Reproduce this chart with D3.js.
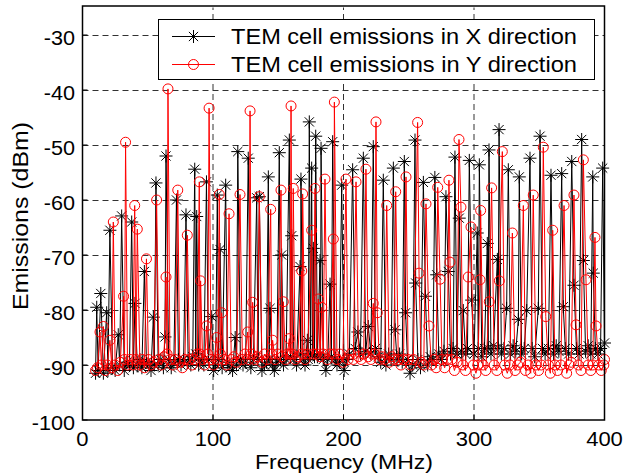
<!DOCTYPE html>
<html>
<head>
<meta charset="utf-8">
<script src="https://cdn.jsdelivr.net/npm/d3@7"></script>
<style>
  body { margin: 0; background: #fff; }
  text { font-family: "Liberation Sans", Arial, Helvetica, sans-serif; fill: #000; }
</style>
</head>
<body>
<div id="viz"></div>
<script>
var width = 624,
    height = 473;

// Axis ticks
var xTicks = [0, 100, 200, 300, 400];
var yTicks = [-100, -90, -80, -70, -60, -50, -40, -30];

var seriesNames = ["TEM cell emissions in X direction", "TEM cell emissions in Y direction"];

// [frequency MHz, emission dBm] (peaks and the floor between them)
var emissionsX = [
  [10, -91.5], [10.9, -79.5], [12, -91], [14, -77], [16, -91.5], [18.5, -80.5], [19.5, -91], [21, -65.5],
  [23, -90.5], [25, -91], [27.4, -84.5], [28.5, -90], [30, -62.9], [32, -91], [34, -89.5], [36, -90],
  [37.7, -64], [39, -90.5], [40.2, -78.8], [42, -90], [44, -89], [45.5, -90.5], [47.4, -73], [49, -89.5],
  [51, -90], [52.5, -91], [54.3, -81.3], [55, -90], [56.3, -56.9], [58, -90], [60, -89], [62, -90.5],
  [63.2, -84.9], [64, -52], [66, -89], [68, -90.5], [70, -89.5], [72, -60], [73.5, -89], [75.5, -90],
  [77.5, -89], [79.3, -62.7], [81, -89.5], [83, -90], [84.5, -88.5], [86, -54.4], [86.8, -88], [87.5, -63],
  [89, -90], [91, -89], [93, -90], [95, -56.7], [96.5, -89], [99, -81.2], [100.5, -91], [102, -90],
  [103.3, -59.1], [104.3, -89], [105.4, -69], [107, -90.5], [109.7, -57.3], [111, -89.5], [113, -90.5], [115, -91],
  [117, -85], [118, -90], [119, -51.2], [121, -89], [123, -90], [125, -89.5], [127, -52.4], [129, -90.5],
  [131, -89], [133.5, -59.6], [134.5, -89], [135.5, -59.4], [137.5, -91], [139.5, -90], [141, -89.5], [142.4, -55.8],
  [143, -89], [143.7, -79.7], [145.5, -90], [147, -91], [149, -89.5], [150.8, -51.4], [151.7, -89], [152.6, -70],
  [154, -90], [156, -89], [158.5, -49.1], [159.4, -88.5], [160.3, -66.5], [162, -89], [164, -90], [166.7, -72.1],
  [167.1, -88], [167.4, -56.2], [169, -89], [170.5, -90], [172.3, -85.5], [173, -89], [173.8, -45.8], [174.7, -88],
  [175.6, -54.2], [176.2, -88], [176.9, -68.8], [177.8, -88.5], [178.7, -48.4], [180, -88.5], [182, -71], [182.4, -88],
  [182.8, -50.6], [184.5, -89], [186.5, -91], [188, -89], [189.7, -75.3], [190.7, -88.5], [191.7, -49.4], [193.5, -89],
  [195, -90], [196.8, -89.5], [198.6, -57.3], [200.5, -91], [202.5, -89], [204.5, -88], [207, -54.5], [209, -87],
  [211, -84], [213, -88], [215.2, -52.4], [217, -87.5], [219, -83], [221, -88], [222.8, -50.3], [224.5, -87],
  [226.5, -88.5], [228.5, -89.5], [230.5, -56.4], [232.5, -90], [234.5, -88], [236.5, -89], [238.2, -54.2], [239.5, -83.6],
  [241, -89], [243, -88], [245, -89.5], [246.6, -53], [247.6, -80.5], [249, -89], [251, -91.5], [253, -90],
  [254.8, -49.1], [255.3, -75.1], [257, -89], [259, -90.5], [261.2, -56.8], [262.8, -77.5], [264.5, -90], [266.5, -88.5],
  [268.5, -89], [270, -55.9], [271.4, -73.6], [273, -88], [275, -89], [277, -87.5], [278.5, -59.4], [280.3, -73],
  [282, -88], [284, -87], [285.4, -52.2], [287, -88], [288.7, -63.3], [290.5, -87.5], [291.8, -80.1], [293.5, -88],
  [295, -87], [296.4, -52.8], [298.2, -78.2], [300, -88], [302.5, -66], [303.3, -87], [304.1, -53.6], [306, -88.5],
  [308, -87], [310.2, -67.9], [310.8, -87], [311.5, -50.9], [313, -88], [315, -86.5], [317.9, -70.8], [318.5, -87],
  [319.2, -47.2], [321, -88], [323, -87], [325, -79.7], [326.3, -54.5], [328, -88], [330, -86.5], [332, -87.5],
  [334, -81.7], [334.7, -55.8], [336.5, -88], [338.5, -87], [340.4, -80.1], [342.9, -52.4], [344.5, -87], [346.5, -88.5],
  [349.3, -79.7], [350.6, -48.4], [352.5, -87], [354.5, -88], [357, -87], [359, -55.5], [361, -88], [363, -86.5],
  [365, -87.5], [367.2, -55.2], [368.4, -79.4], [370, -87], [372.5, -88], [374.9, -53], [376.6, -75.5], [378.5, -87],
  [380.5, -88], [382.5, -49], [383.8, -71], [385.5, -87.5], [387.5, -86.5], [389.5, -88], [391, -55.8], [391.4, -73.3],
  [393, -87], [395, -88], [397, -87], [398.6, -54.2], [400, -86]
];

var emissionsY = [
  [10, -91], [11.5, -90.5], [13.4, -84], [14.5, -90], [16, -83], [17.5, -91], [19, -90], [21, -85.5],
  [22.5, -90.5], [23.6, -64], [25, -90], [27, -91], [29, -89.5], [31.5, -77.5], [32.2, -89], [33, -49.5],
  [34.5, -90], [36.5, -89], [38.5, -90], [40, -61], [41, -89], [42, -65.3], [44, -90], [46, -89],
  [47.5, -90.5], [49, -70.7], [50.5, -89], [52.5, -90], [54.5, -89.5], [56.8, -60], [58.5, -89], [60.5, -90],
  [62.5, -88.5], [64, -74], [64.8, -88], [65.5, -39.8], [67, -89], [69, -90], [71, -89], [73, -58.2],
  [74.5, -89.5], [76.5, -90.5], [78.5, -89], [80.3, -66.4], [82, -89], [84, -90], [86, -89], [88, -88],
  [89.5, -56.7], [90, -88], [90.5, -74.7], [92, -89], [93.5, -90], [95, -82.9], [96, -88], [97, -43.3],
  [98.5, -89], [100.5, -90], [102.8, -85], [103.8, -89], [104.8, -59], [105.7, -88], [106.6, -80.5], [108.5, -89],
  [110.5, -90], [112.3, -62.5], [114, -89], [116, -88.5], [118, -89.5], [120.7, -59], [122.5, -89], [124.5, -88],
  [126.6, -84], [127.5, -89], [128.4, -43.8], [129.4, -88], [130.4, -78.6], [132, -89], [133.8, -88.5], [135.5, -59.4],
  [137.5, -89.5], [139.5, -88], [141.5, -89], [144.2, -61.7], [145, -88], [145.7, -85.5], [147.5, -89], [149.5, -88],
  [152.1, -58.2], [153, -88.5], [153.9, -78.5], [155.5, -89], [157, -88], [158.5, -85.2], [159.1, -88], [159.8, -42.9],
  [160.6, -88], [161.5, -57.9], [163, -89], [165, -88.5], [168, -72.9], [168.3, -88], [168.7, -58.9], [170.5, -89],
  [172.5, -88], [175.6, -65.5], [176.9, -88], [178.2, -57.9], [179.4, -88], [180.7, -78], [182, -88.5], [183.3, -79.5],
  [184.5, -88], [185.8, -56.2], [187.5, -89], [189.5, -88], [192.2, -67.1], [192.6, -88], [193, -42.2], [195, -89],
  [197, -88], [199.5, -89.5], [201.9, -56.2], [203.5, -89], [205.5, -88], [207.5, -89], [209.6, -56.7], [211.5, -88.5],
  [213.5, -89], [215.5, -88], [217.2, -54.4], [219, -88.5], [221, -89], [222.8, -78.8], [223.8, -88], [224.9, -45.8],
  [225.9, -80.5], [227.5, -89], [229.5, -88.5], [231.5, -89], [233.1, -61], [235, -89.5], [237, -88.5], [238.5, -89],
  [240, -58.5], [242, -89], [244, -90], [246, -89], [247.9, -55.8], [249.5, -89], [251.5, -90], [253.5, -89],
  [256.8, -45.9], [257.9, -73.3], [259.5, -89.5], [261.5, -90], [263.2, -60.7], [265.5, -82.9], [267.5, -90], [269.5, -89],
  [271, -90.5], [272.2, -57.7], [274, -74.4], [275.5, -89], [277.5, -90.5], [279.5, -89], [280.8, -56.4], [281.6, -71.3],
  [283, -89], [285, -91], [287, -89.5], [288.5, -49], [290, -61.3], [291.5, -90], [293.5, -91], [295.6, -74],
  [297.7, -64.9], [299.5, -90], [301.5, -91.5], [303, -90], [304.6, -74.5], [305.1, -61.9], [307, -90], [309, -91],
  [311.7, -78.5], [313.5, -57.8], [315.5, -90], [317.5, -91], [319.4, -74.7], [321.7, -51.2], [323.5, -90], [325.5, -91.5],
  [327.5, -90], [329.4, -66], [331.5, -91], [333.5, -90], [335.5, -89.5], [337.8, -61], [339.5, -91], [341.5, -90],
  [343.5, -91.5], [345.4, -59.1], [347.5, -90], [349.5, -91], [351.5, -90], [353.1, -50.4], [355, -81.2], [357, -90],
  [358.5, -91.5], [360.3, -65.5], [362, -90], [364, -91], [366.5, -90], [369, -61], [371, -91.5], [373, -90],
  [374.5, -89.5], [376.6, -59.1], [378.2, -82.7], [380, -90], [382, -91], [383.8, -52.7], [385.8, -74.5], [387.5, -90],
  [389.5, -91], [391, -90], [392.7, -66.8], [393.5, -82.9], [395.5, -90], [397.5, -91], [399.5, -90], [400, -89]
];

var plot = {left: 82.5, right: 604.5, top: 7.5, bottom: 420};

var svg = d3.select("div#viz")
    .append("svg")
    .attr("width", width)
    .attr("height", height)
    .style("background", "#fff");

var x = d3.scaleLinear().domain([0, 400]).range([plot.left, plot.right]);
var y = d3.scaleLinear().domain([-100, -25]).range([plot.bottom, plot.top]);

// stretch text horizontally a bit, the original font runs wider than Arial
function widen(k) {
    return function() {
        this.setAttribute("textLength", this.getComputedTextLength() * k);
        this.setAttribute("lengthAdjust", "spacingAndGlyphs");
    };
}

// Dashed grid
var grid = svg.append("g").attr("class", "grid")
    .attr("stroke", "#000")
    .attr("stroke-width", 1)
    .attr("stroke-dasharray", "6,4")
    .attr("opacity", 0.8);

grid.selectAll("line.h")
    .data(yTicks.filter(function(d) { return d > -100; }))
    .enter().append("line")
    .attr("class", "h")
    .attr("x1", plot.left).attr("x2", plot.right)
    .attr("y1", function(d) { return Math.round(y(d)) + 0.5; })
    .attr("y2", function(d) { return Math.round(y(d)) + 0.5; });

grid.selectAll("line.v")
    .data(xTicks.filter(function(d) { return d > 0 && d < 400; }))
    .enter().append("line")
    .attr("class", "v")
    .attr("y1", plot.bottom).attr("y2", plot.top)
    .attr("x1", function(d) { return x(d); })
    .attr("x2", function(d) { return x(d); });

var line = d3.line()
    .x(function(d) { return x(d[0]); })
    .y(function(d) { return y(d[1]); });

var starPath = "M-6.5,0H6.5M0,-6.5V6.5M-4.6,-4.6L4.6,4.6M-4.6,4.6L4.6,-4.6";

// X direction, black stars
svg.append("path")
    .datum(emissionsX)
    .attr("fill", "none")
    .attr("stroke", "#000")
    .attr("stroke-width", 1)
    .attr("d", line);

svg.append("g")
    .selectAll("path")
    .data(emissionsX)
    .enter().append("path")
    .attr("d", starPath)
    .attr("transform", function(d) { return "translate(" + x(d[0]) + "," + y(d[1]) + ")"; })
    .attr("stroke", "#000")
    .attr("stroke-width", 1)
    .attr("fill", "none");

// Y direction, red circles
svg.append("path")
    .datum(emissionsY)
    .attr("fill", "none")
    .attr("stroke", "#ff0000")
    .attr("stroke-width", 1)
    .attr("d", line);

svg.append("g")
    .selectAll("circle")
    .data(emissionsY)
    .enter().append("circle")
    .attr("cx", function(d) { return x(d[0]); })
    .attr("cy", function(d) { return y(d[1]); })
    .attr("r", 5)
    .attr("stroke", "#ff0000")
    .attr("stroke-width", 1)
    .attr("fill", "none");

// Axes box with inward ticks
var axes = svg.append("g").attr("class", "axes");

axes.append("rect")
    .attr("x", plot.left).attr("y", plot.top - 1.5)
    .attr("width", plot.right - plot.left)
    .attr("height", plot.bottom - plot.top + 1.5)
    .attr("fill", "none")
    .attr("stroke", "#000")
    .attr("stroke-width", 1.5);

axes.selectAll("line.xt")
    .data(xTicks)
    .enter().append("line")
    .attr("class", "xt")
    .attr("x1", function(d) { return x(d); }).attr("x2", function(d) { return x(d); })
    .attr("y1", plot.bottom).attr("y2", plot.bottom - 5)
    .attr("stroke", "#000");

axes.selectAll("line.yt")
    .data(yTicks)
    .enter().append("line")
    .attr("class", "yt")
    .attr("x1", plot.left).attr("x2", plot.left + 5)
    .attr("y1", function(d) { return y(d); }).attr("y2", function(d) { return y(d); })
    .attr("stroke", "#000");

axes.selectAll("text.xl")
    .data(xTicks)
    .enter().append("text")
    .attr("class", "xl")
    .attr("x", function(d) { return x(d); })
    .attr("y", 445.5)
    .attr("text-anchor", "middle")
    .style("font-size", "20px")
    .text(function(d) { return d; })
    .each(widen(1.1));

axes.selectAll("text.yl")
    .data(yTicks)
    .enter().append("text")
    .attr("class", "yl")
    .attr("x", 75)
    .attr("y", function(d) { return y(d) + 9.5; })
    .attr("text-anchor", "end")
    .style("font-size", "20px")
    .text(function(d) { return d; })
    .each(widen(1.08));

svg.append("text")
    .attr("x", 344)
    .attr("y", 469)
    .attr("text-anchor", "middle")
    .attr("textLength", 178)
    .attr("lengthAdjust", "spacingAndGlyphs")
    .style("font-size", "21px")
    .text("Frequency (MHz)");

svg.append("text")
    .attr("transform", "translate(28,216) rotate(-90)")
    .attr("text-anchor", "middle")
    .attr("textLength", 188)
    .attr("lengthAdjust", "spacingAndGlyphs")
    .style("font-size", "22px")
    .text("Emissions (dBm)");

// Legend
var legend = svg.append("g").attr("class", "legend");

legend.append("rect")
    .attr("x", 158.5).attr("y", 19.5)
    .attr("width", 436).attr("height", 60)
    .attr("fill", "#fff")
    .attr("stroke", "#000")
    .attr("stroke-width", 1);

var legendRows = [
  {name: seriesNames[0], color: "#000", marker: "star", y: 36.5},
  {name: seriesNames[1], color: "#ff0000", marker: "circle", y: 64.5}
];

legendRows.forEach(function(r) {
    legend.append("line")
        .attr("x1", 172).attr("x2", 215)
        .attr("y1", r.y).attr("y2", r.y)
        .attr("stroke", r.color);
    if (r.marker == "star") {
        legend.append("path")
            .attr("d", starPath)
            .attr("transform", "translate(193.5," + r.y + ")")
            .attr("stroke", r.color)
            .attr("fill", "none");
    } else {
        legend.append("circle")
            .attr("cx", 193.5).attr("cy", r.y).attr("r", 5)
            .attr("stroke", r.color)
            .attr("fill", "none");
    }
    legend.append("text")
        .attr("x", 231)
        .attr("y", r.y + 7.8)
        .attr("textLength", 346)
        .attr("lengthAdjust", "spacingAndGlyphs")
        .style("font-size", "22px")
        .text(r.name);
});
</script>
</body>
</html>
